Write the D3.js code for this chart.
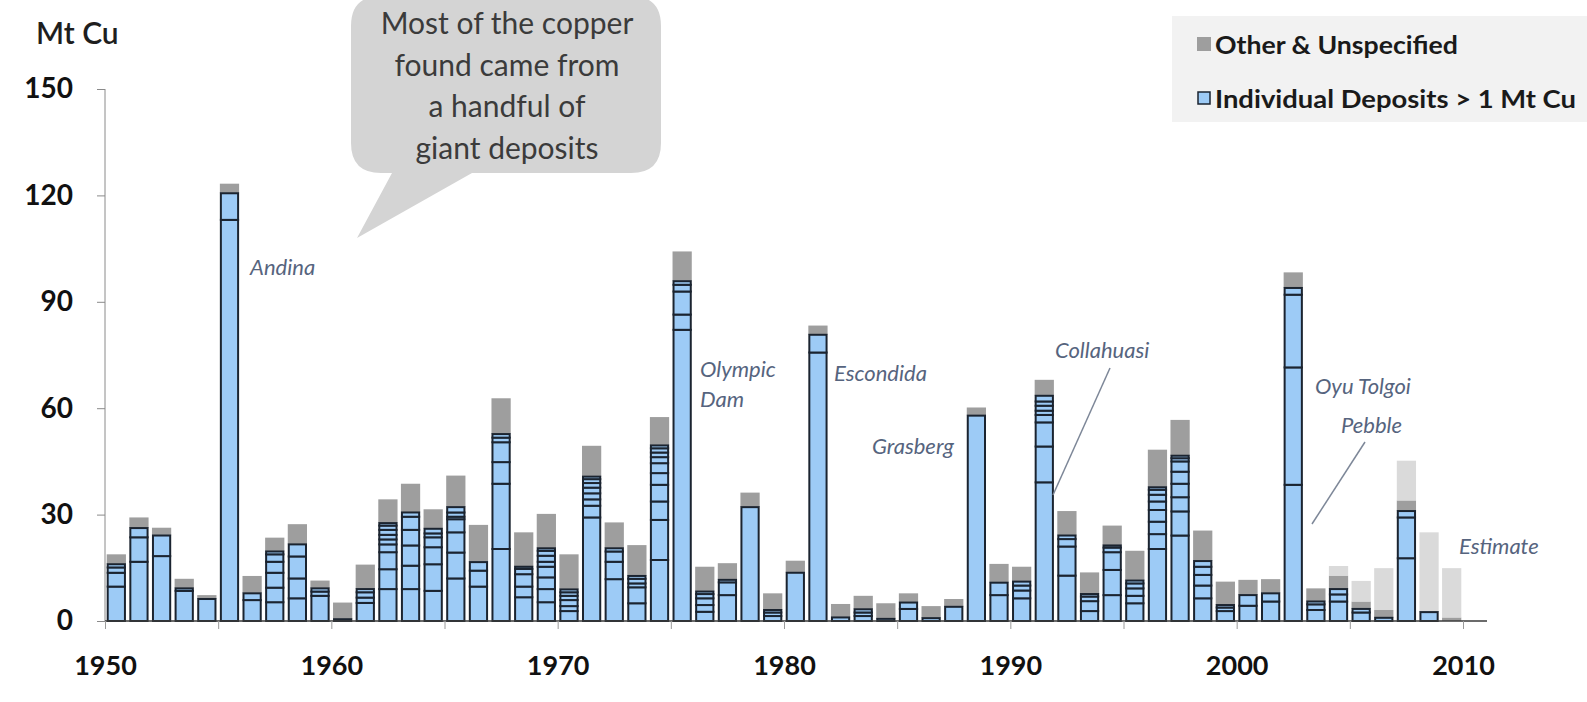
<!DOCTYPE html>
<html>
<head>
<meta charset="utf-8">
<script src="https://cdn.jsdelivr.net/npm/d3@7"></script>
<style>
  body { margin: 0; background: #fff; }
  svg { display: block; font-family: Lato, "Open Sans", sans-serif; }
</style>
</head>
<body>
<svg id="chart" width="1587" height="702"></svg>
<script>
// discovery year
var years = d3.range(1950, 2010);

// individual deposits > 1 Mt Cu, bottom to top, per year
var deposits = [
  [9.7, 3.9, 1.5, 0.9],                 // 1950
  [16.7, 6.9, 2.6],
  [18.3, 5.8],
  [8.5, 0.7],
  [6.2],
  [113.1, 7.5],                         // 1955 Andina
  [5.9, 1.9],
  [5.3, 4.1, 4.2, 3.1, 2.1, 0.8],
  [6.4, 5.6, 6.2, 3.4],
  [7.1, 1.2, 0.9],
  [0.5],                                // 1960
  [5.1, 1.5, 1.5, 0.9],
  [9, 5.6, 4.8, 2.2, 1.4, 1.3, 1.4, 1.2, 0.7],
  [9, 6.6, 5.7, 4.4, 3.7, 1.2],
  [8.5, 7.5, 4.8, 2.8, 1.1, 1.3],
  [12, 7.3, 5.7, 3.7, 0.7, 1.2, 1.5],
  [9.7, 4.5, 2.4],
  [20.3, 18.4, 6.1, 5.6, 1.3, 1.0],
  [6.7, 3, 3.5, 1.5, 0.6],
  [5.3, 3.7, 3.3, 3, 1.4, 1.7, 1.4, 0.7],
  [2.8, 1.4, 1.7, 1.2, 1.0, 0.8],       // 1970
  [29.2, 3.3, 1.8, 1.7, 1.6, 1.3, 1.1, 0.7],
  [11.8, 4.9, 2.9, 0.9],
  [5, 4.5, 1.1, 1.3, 0.8],
  [17.2, 11.3, 5.2, 4.7, 3.3, 2.8, 1.7, 1.3, 1.2, 0.8],
  [82.1, 4.3, 6.5, 1.9, 1.0],           // 1975 Olympic Dam
  [2.6, 1.9, 1.9, 1.2, 0.7],
  [7.3, 3.6, 0.7],
  [32.1],
  [1.4, 1.0, 0.7],
  [13.6],                               // 1980
  [75.7, 5.0],                          // Escondida
  [1.0],
  [1.4, 1.0, 0.9],
  [0.6],
  [3.4, 1.8],
  [0.8],
  [4.0],
  [57.9],                               // Grasberg
  [7.3, 3.5],
  [6.4, 2.2, 1.4, 1.1],                 // 1990
  [39.1, 10.1, 6.8, 2.1, 1.2, 1.4, 1.2, 1.6],
  [12.8, 8.2, 2.1, 1.0],
  [2.8, 2.8, 1.3, 0.7],
  [7.3, 7.1, 5, 1.3, 0.6],
  [5, 2.1, 2.1, 1.4, 0.8],
  [20.3, 4.2, 3.5, 3.3, 2.4, 1.9, 1.4, 0.7],
  [24.1, 6.8, 4, 3.8, 3.4, 2.9, 0.9, 0.7],
  [6.4, 3.6, 3, 2.3, 1.6],
  [2.8, 1.0, 0.7],
  [4.3, 3.0],                           // 2000
  [5.5, 2.3],
  [38.4, 33.1, 20.5, 1.9],              // Oyu Tolgoi
  [3.1, 1.6, 0.8],
  [5.5, 2.0, 1.5],
  [2.4, 1.0],
  [0.9],
  [17.7, 11.5, 1.8],
  [2.5],
  []
];

// other & unspecified
var other = [
  2.8, 3.0, 2.2, 2.7, 1.1, 2.7, 4.9, 3.9, 5.7, 2.2,
  4.7, 6.9, 6.7, 8.1, 5.5, 8.9, 10.5, 10.1, 9.7, 9.7,
  9.9, 8.7, 7.3, 8.7, 8.0, 8.4, 7.0, 4.7, 4.1, 4.7,
  3.4, 2.6, 3.8, 3.8, 4.4, 2.6, 3.4, 2.2, 2.3, 5.3,
  4.2, 4.5, 6.9, 6.1, 5.6, 8.4, 10.6, 10.1, 8.6, 6.6,
  4.3, 4.0, 4.4, 3.7, 3.8, 2.1, 2.2, 3.0, 0.3, 1.0
];

// estimated further discoveries (recent years)
var estimate = [
  0, 0, 0, 0, 0, 0, 0, 0, 0, 0,
  0, 0, 0, 0, 0, 0, 0, 0, 0, 0,
  0, 0, 0, 0, 0, 0, 0, 0, 0, 0,
  0, 0, 0, 0, 0, 0, 0, 0, 0, 0,
  0, 0, 0, 0, 0, 0, 0, 0, 0, 0,
  0, 0, 0, 0, 2.7, 5.8, 11.8, 11.2, 22.2, 13.9
];

var yTicks = [0, 30, 60, 90, 120, 150];
var xTicks = d3.range(1950, 2011, 5);
var xLabels = [1950, 1960, 1970, 1980, 1990, 2000, 2010];

var bubbleLines = ["Most of the copper", "found came from", "a handful of", "giant deposits"];

var notes = [
  {text: "Andina", x: 250, y: 266},
  {text: "Olympic", x: 700, y: 368},
  {text: "Dam", x: 700, y: 398},
  {text: "Escondida", x: 834, y: 372},
  {text: "Grasberg", x: 872, y: 445},
  {text: "Collahuasi", x: 1055, y: 349},
  {text: "Oyu Tolgoi", x: 1315, y: 385},
  {text: "Pebble", x: 1341, y: 424},
  {text: "Estimate", x: 1459, y: 545}
];

var colors = {blue: "#9dcbf6", other: "#9e9e9e", estimate: "#dadada", edge: "#1b2430"};

var svg = d3.select("#chart");
var chart = {left: 105, right: 1463, top: 89, bottom: 621};

var x = d3.scaleBand().domain(years).range([chart.left, chart.right])
  .paddingInner(0.15).paddingOuter(0.075);
var xYear = d3.scaleLinear().domain([1950, 2010]).range([chart.left, chart.right]);
var y = d3.scaleLinear().domain([0, 150]).range([chart.bottom, chart.top]);

// build the stacked pieces per year
var pieces = [];
years.forEach(function(yr, i) {
  var base = 0;
  deposits[i].forEach(function(v) {
    pieces.push({year: yr, y0: base, y1: base + v, type: "blue"});
    base += v;
  });
  if (other[i] > 0) { pieces.push({year: yr, y0: base, y1: base + other[i], type: "other"}); base += other[i]; }
  if (estimate[i] > 0) { pieces.push({year: yr, y0: base, y1: base + estimate[i], type: "estimate"}); }
});

// grey / estimate first, blue on top so outlines stay crisp
svg.append("g").selectAll("rect")
  .data(pieces.filter(function(d) { return d.type != "blue"; }))
  .enter().append("rect")
    .attr("x", function(d) { return x(d.year); })
    .attr("y", function(d) { return y(d.y1); })
    .attr("width", x.bandwidth())
    .attr("height", function(d) { return y(d.y0) - y(d.y1); })
    .attr("fill", function(d) { return colors[d.type]; });

svg.append("g").selectAll("rect")
  .data(pieces.filter(function(d) { return d.type == "blue"; }))
  .enter().append("rect")
    .attr("x", function(d) { return x(d.year) + 1; })
    .attr("y", function(d) { return y(d.y1); })
    .attr("width", x.bandwidth() - 2)
    .attr("height", function(d) { return y(d.y0) - y(d.y1); })
    .attr("fill", colors.blue)
    .attr("stroke", colors.edge)
    .attr("stroke-width", 2);

// y axis
var yAxis = svg.append("g").attr("transform", "translate(" + chart.left + ",0)")
  .call(d3.axisLeft(y).tickValues(yTicks).tickSize(8).tickPadding(24));
yAxis.select(".domain").attr("stroke", "#8a8a8a").attr("d", "M0," + chart.top + "V" + chart.bottom);
yAxis.selectAll(".tick line").attr("stroke", "#8a8a8a");
yAxis.selectAll(".tick text")
  .attr("font-family", "Lato").attr("font-weight", 700).attr("font-size", 28)
  .attr("fill", "#111");

// x axis
var xAxis = svg.append("g").attr("transform", "translate(0," + chart.bottom + ")")
  .call(d3.axisBottom(xYear).tickValues(xTicks).tickSize(8)
    .tickFormat(function(d) { return xLabels.indexOf(d) >= 0 ? d : ""; }).tickPadding(27));
xAxis.select(".domain").attr("stroke", "#3a3a3a").attr("stroke-width", 1.5)
  .attr("d", "M" + chart.left + ",0H1487");
xAxis.selectAll(".tick line").attr("stroke", "#9a9a9a");
xAxis.selectAll(".tick text")
  .attr("font-family", "Lato").attr("font-weight", 700).attr("font-size", 27)
  .attr("fill", "#111");

// unit label
svg.append("text").attr("x", 36).attr("y", 32).attr("dominant-baseline", "central")
  .attr("font-size", 30).attr("font-weight", 600).attr("fill", "#1e1e1e").text("Mt Cu");

// callout bubble
var b = {l: 351, r: 661, t: -4, btm: 173, rad: 30};
var bubble = d3.path();
bubble.moveTo(b.l + b.rad, b.t);
bubble.lineTo(b.r - b.rad, b.t);
bubble.quadraticCurveTo(b.r, b.t, b.r, b.t + b.rad);
bubble.lineTo(b.r, b.btm - b.rad);
bubble.quadraticCurveTo(b.r, b.btm, b.r - b.rad, b.btm);
bubble.lineTo(472, b.btm);
bubble.lineTo(357, 238);
bubble.lineTo(392, b.btm);
bubble.lineTo(b.l + b.rad, b.btm);
bubble.quadraticCurveTo(b.l, b.btm, b.l, b.btm - b.rad);
bubble.lineTo(b.l, b.t + b.rad);
bubble.quadraticCurveTo(b.l, b.t, b.l + b.rad, b.t);
bubble.closePath();
svg.append("path").attr("d", bubble.toString()).attr("fill", "#d4d4d4");

svg.append("g").selectAll("text").data(bubbleLines).enter().append("text")
  .attr("x", 507).attr("y", function(d, i) { return 22 + i * 41.5; })
  .attr("text-anchor", "middle").attr("dominant-baseline", "central")
  .attr("font-size", 30).attr("fill", "#3b3b3b")
  .text(function(d) { return d; });

// deposit names
svg.append("g").selectAll("text").data(notes).enter().append("text")
  .attr("x", function(d) { return d.x; }).attr("y", function(d) { return d.y; })
  .attr("dominant-baseline", "central")
  .attr("font-style", "italic").attr("font-size", 22).attr("fill", "#56647e")
  .text(function(d) { return d.text; });

// leader lines
svg.append("line").attr("x1", 1110).attr("y1", 368).attr("x2", 1053).attr("y2", 495)
  .attr("stroke", "#7d8798").attr("stroke-width", 1.5);
svg.append("line").attr("x1", 1365).attr("y1", 442).attr("x2", 1312).attr("y2", 524)
  .attr("stroke", "#7d8798").attr("stroke-width", 1.5);

// legend
var legend = svg.append("g");
legend.append("rect").attr("x", 1172).attr("y", 16).attr("width", 415).attr("height", 106)
  .attr("fill", "#f2f2f2");
legend.append("rect").attr("x", 1197).attr("y", 37).attr("width", 14).attr("height", 14)
  .attr("fill", colors.other);
legend.append("rect").attr("x", 1198).attr("y", 92).attr("width", 12).attr("height", 12)
  .attr("fill", colors.blue).attr("stroke", colors.edge).attr("stroke-width", 1.5);
legend.append("text").attr("x", 1215).attr("y", 44).attr("dominant-baseline", "central")
  .attr("font-size", 24).attr("font-weight", 700).attr("fill", "#1a1a1a")
  .attr("textLength", 243).attr("lengthAdjust", "spacingAndGlyphs").text("Other & Unspecified");
legend.append("text").attr("x", 1215).attr("y", 98).attr("dominant-baseline", "central")
  .attr("font-size", 24).attr("font-weight", 700).attr("fill", "#1a1a1a")
  .attr("textLength", 361).attr("lengthAdjust", "spacingAndGlyphs").text("Individual Deposits > 1 Mt Cu");
</script>
</body>
</html>
